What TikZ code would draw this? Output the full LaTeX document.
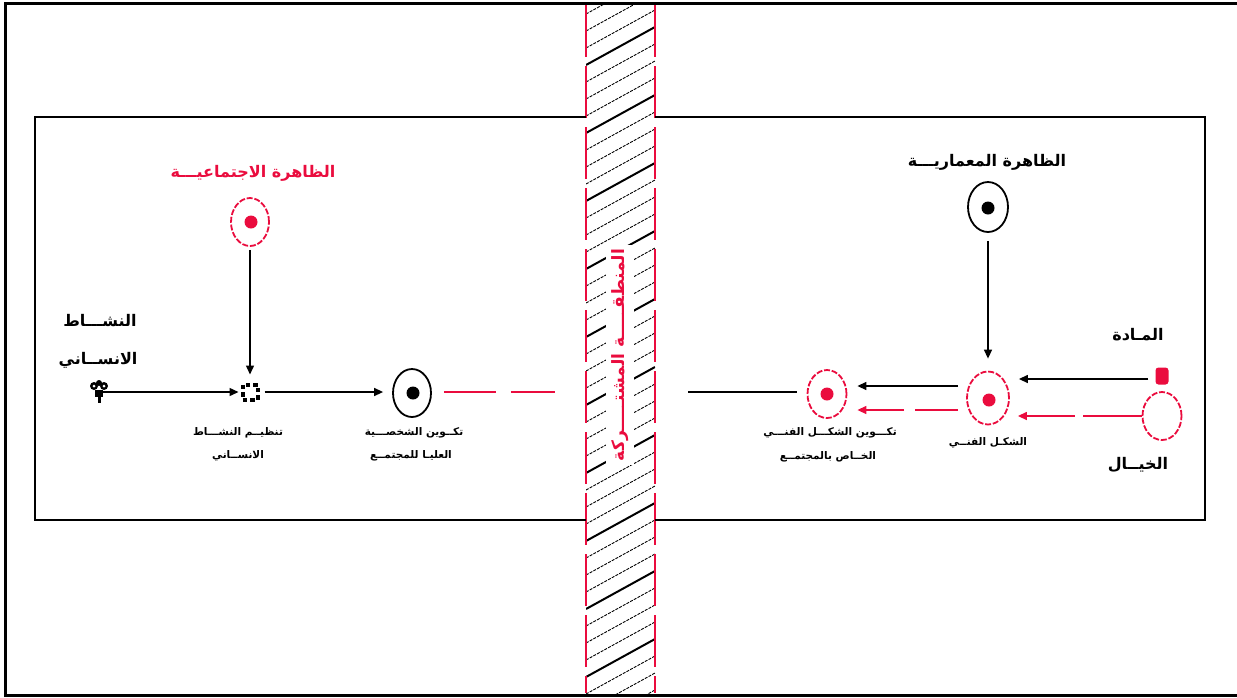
\documentclass[tikz,border=0pt]{standalone}
\usepackage{fontspec}
\newfontfamily\arabicfont[Script=Arabic, BoldFont={DejaVu Sans Bold}]{DejaVu Sans}
\TeXXeTstate=1
\usetikzlibrary{shapes.geometric,arrows.meta}
\definecolor{myred}{RGB}{234,12,62}
\tikzset{
  bigtxt/.style={font=\arabicfont\bfseries\fontsize{16}{18}\selectfont, inner sep=0},
  smalltxt/.style={font=\arabicfont\bfseries\fontsize{10.5}{12}\selectfont, inner sep=0},
  ring/.style={ellipse, draw, line width=1.8pt, minimum width=38pt, minimum height=48pt, inner sep=0},
  redring/.style={ring, draw=myred, dash pattern=on 6pt off 1.8pt},
  bigdot/.style={circle, fill, inner sep=0, minimum size=13pt},
  conn/.style={line width=1.4pt, -{Triangle[length=9pt,width=8pt]}},
  plainconn/.style={line width=1.4pt},
  frameline/.style={line width=2.2pt, line join=miter},
  bandedge/.style={draw=myred, line width=1.7pt, dash pattern=on 52pt off 9pt},
  hatchthin/.style={line width=0.9pt, dash pattern=on 3pt off 1.2pt},
  hatchthick/.style={line width=2pt},
}
\begin{document}
\begin{tikzpicture}[x=1pt,y=-1pt]
\useasboundingbox (0,0) rectangle (1237,697);
% outer frame
\draw[line width=3pt] (5.5,3.5) rectangle (1240,695.5);
% hatched band
\begin{scope}
  \clip (586,5) rectangle (655,693);
  \foreach \k in {0,...,46} {
    \pgfmathtruncatemacro{\m}{mod(\k,4)}
    \ifnum\m=1
      \draw[hatchthick] (586,{-20+\k*17}) -- (655,{-58+\k*17});
    \else
      \draw[hatchthin] (586,{-20+\k*17}) -- (655,{-58+\k*17});
    \fi
  }
\end{scope}
\draw[bandedge] (586,5) -- (586,693);
\draw[bandedge] (655,5) -- (655,693);
\node[font=\arabicfont\bfseries\fontsize{17}{19}\selectfont, text=myred, fill=white, inner xsep=4pt, inner ysep=5pt, rotate=90] (band) at (620,355) {\beginR المنطقـــــة المشتـــــركة\endR};
% inner frames
\draw[frameline] (586,117) -- (35,117) -- (35,520) -- (586,520);
\draw[frameline] (655,117) -- (1205,117) -- (1205,520) -- (655,520);

% ===== left part =====
\node[bigtxt, text=myred] (socT) at (253,173) {\beginR الظاهرة الاجتماعيـــة\endR};
\node[redring] (socN) at (250,222) {};
\node[bigdot, fill=myred] (socD) at (251,222) {};

\node[bigtxt] (humT1) at (100,321) {\beginR النشـــاط\endR};
\node[bigtxt] (humT2) at (98,360) {\beginR الانســاني\endR};
\node[minimum size=20pt, inner sep=0] (humN) at (99,392) {};
\fill (94,386) circle (4pt);
\fill (104,386) circle (4pt);
\fill (99,383) circle (3pt);
\fill[white] (94,386) circle (1.5pt);
\fill[white] (104,386) circle (1.5pt);
\fill (95,390) rectangle (103,397);
\fill (97.5,396) rectangle (100.5,403);

\node[draw, line width=4pt, dash pattern=on 4.5pt off 3pt, minimum size=15pt, inner sep=0] (orgN) at (250,392) {};
\node[smalltxt] (orgT1) at (238,433) {\beginR تنظيــم النشـــاط\endR};
\node[smalltxt] (orgT2) at (238,456) {\beginR الانســاني\endR};

\node[ring] (persN) at (412,393) {};
\node[bigdot] (persD) at (413,393) {};
\node[smalltxt] (persT1) at (414,433) {\beginR تكــوين الشخصـــية\endR};
\node[smalltxt] (persT2) at (411,456) {\beginR العليـا للمجتمــع\endR};
\coordinate (leftEnd) at (555,392);

\draw[conn] (socN.south) -- (orgN.north) [shorten >=8pt, shorten <=3pt];
\draw[conn, shorten >=2pt, shorten <=-12pt] (humN.east) -- (orgN.west);
\draw[conn, shorten >=9pt, shorten <=5pt] (orgN.east) -- (persN.west |- orgN.east);
\draw[plainconn, draw=myred, shorten <=12pt, dash pattern=on 52pt off 15pt on 80pt] (persN.east |- leftEnd) -- (leftEnd);

% ===== right part =====
\node[bigtxt] (archT) at (987,162) {\beginR الظاهرة المعماريـــة\endR};
\node[ring, minimum width=40pt, minimum height=50pt] (archN) at (988,207) {};
\node[bigdot] (archD) at (988,208) {};

\node[redring, minimum width=42pt, minimum height=53pt] (artN) at (988,398) {};
\node[bigdot, fill=myred] (artD) at (989,400) {};
\node[smalltxt] (artT) at (988,443) {\beginR الشكـل الفنــي\endR};

\node[bigtxt] (matT) at (1138,335) {\beginR المـادة\endR};
\node[fill=myred, rounded corners=3pt, minimum width=13pt, minimum height=17pt, inner sep=0] (matN) at (1162,376) {};
\node[redring, minimum width=39pt, minimum height=48pt] (imgN) at (1162,416) {};
\node[bigtxt] (imgT) at (1138,465) {\beginR الخيــال\endR};

\node[redring, minimum width=39pt, minimum height=48pt] (formN) at (827,394) {};
\node[bigdot, fill=myred] (formD) at (827,394) {};
\node[smalltxt] (formT1) at (830,433) {\beginR تكـــوين الشكـــل الفنـــي\endR};
\node[smalltxt] (formT2) at (828,457) {\beginR الخــاص بالمجتمــع\endR};
\coordinate (rightStart) at (688,392);
\coordinate (yb) at (0,386);
\coordinate (yr) at (0,410);
\coordinate (ym) at (0,379);

\draw[conn, shorten <=8pt, shorten >=12pt] (archN.south) -- (artN.north);
\draw[conn, shorten <=7pt, shorten >=9pt] (matN.west |- ym) -- (artN.east |- ym);
\draw[conn, draw=myred, shorten >=8pt, dash pattern=on 59pt off 8pt on 300pt] (imgN.west) -- (artN.east |- imgN.west);
\draw[conn, shorten <=8pt, shorten >=10pt] (artN.west |- yb) -- (formN.east |- yb);
\draw[conn, draw=myred, shorten <=8pt, shorten >=10pt, dash pattern=on 43pt off 11pt on 300pt] (artN.west |- yr) -- (formN.east |- yr);
\draw[plainconn, shorten >=10pt] (rightStart) -- (formN.west |- rightStart);
\end{tikzpicture}
\end{document}
